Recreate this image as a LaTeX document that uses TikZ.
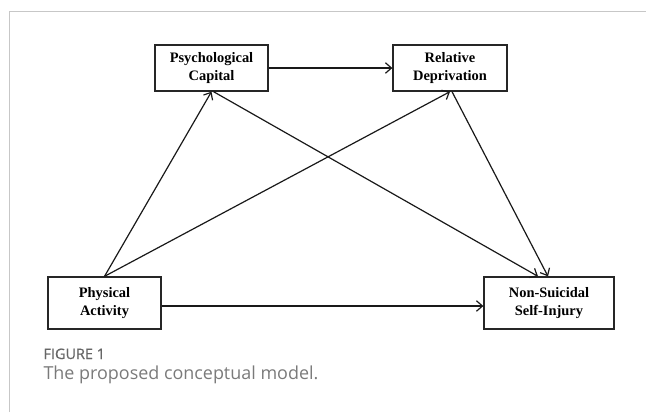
\documentclass[tikz,border=0pt]{standalone}
\usepackage{fontspec}
\setmainfont{Liberation Serif}
\newfontfamily\capsans{Open Sans}
\newfontfamily\capsemi{Open Sans}[FakeBold=0.7]
\usetikzlibrary{arrows.meta}
\begin{document}
\begin{tikzpicture}[x=1bp,y=-1bp,
  var/.style={draw=black!85, line width=1.3bp, align=center,
    font=\fontsize{14.5}{17.5}\selectfont\bfseries, inner sep=0pt},
  arr/.style={draw=black!90, line width=1.2bp,
    -{Straight Barb[length=6bp,width=10.5bp,line width=1.2bp]}},
  frame/.style={draw=black!22, line width=1bp},
  figlabel/.style={anchor=base west, text=black!60,
    font=\capsemi\fontsize{14.5}{16}\selectfont},
  figtext/.style={anchor=base west, text=black!52,
    font=\capsans\fontsize{18}{21}\selectfont}]
\useasboundingbox (0,0) rectangle (646,412);

% panel border
\draw[frame] (9,412) -- (9,11.5) -- (646,11.5);

% variables
\node[var, minimum width=113bp, minimum height=46bp] (psy) at (211.5,68) {Psychological\\Capital};
\node[var, minimum width=114bp, minimum height=46bp] (rel) at (450,68) {Relative\\Deprivation};
\node[var, minimum width=113bp, minimum height=52bp] (phy) at (104.5,303) {Physical\\Activity};
\node[var, minimum width=130bp, minimum height=52bp] (nssi) at (549,303) {Non-Suicidal\\Self-Injury};

% paths
\draw[arr] (psy.east) -- (rel.west);
\draw[arr] (phy.north) -- (psy.south);
\draw[arr] (phy.north) -- (rel.south);
\draw[arr] ([xshift=2bp]psy.south) -- ([xshift=-11bp]nssi.north);
\draw[arr] ([xshift=2bp]rel.south) -- ([xshift=-1bp]nssi.north);
\draw[arr] ([yshift=-3bp]phy.east) -- ([yshift=-3bp]nssi.west);

% caption
\node[figlabel] (fignum) at (40,359) {FIGURE 1};
\node[figtext] (figcap) at (40,379) {The proposed conceptual model.};
\end{tikzpicture}
\end{document}
